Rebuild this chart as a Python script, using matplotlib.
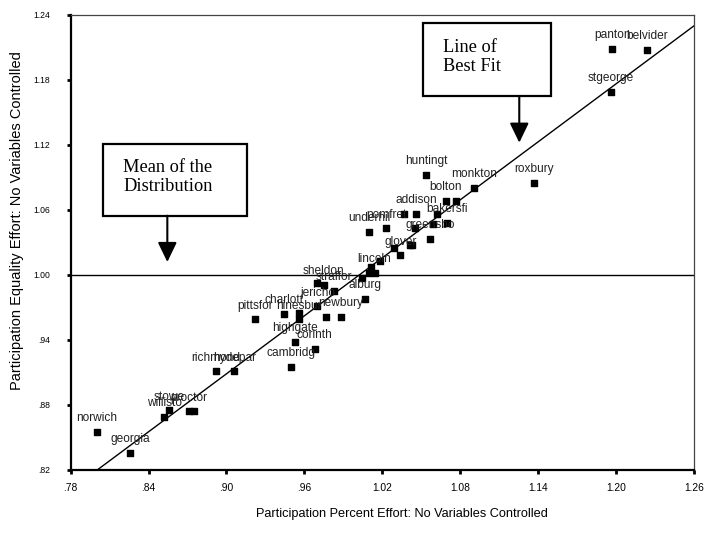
import numpy as np
import matplotlib
matplotlib.use('Agg')
import matplotlib.pyplot as plt
from matplotlib.patches import Rectangle

plt.rcParams['font.family'] = ['Liberation Sans', 'DejaVu Sans']

# towns (8 char names as in the source output, '' = label hidden under others)
towns = ['norwich', 'georgia', 'willisto', 'stowe', 'proctor', '',
         'richmond', 'hydepar', 'cambridg', 'highgate', 'corinth',
         'pittsfor', 'charlott', 'hinesbur', '', 'newbury', '',
         'jericho', 'straffor', 'sheldon', '', 'alburg', '',
         '', 'lincoln', '', '', 'glover', '', '', '',
         'huntingt', 'monkton', 'bolton', '', 'addison', '', '',
         'bakersfi', '', 'underhil', 'pomfret', '', 'greensbo',
         'roxbury', 'stgeorge', 'panton', 'belvider']
percent_effort = [0.800, 0.826, 0.852, 0.856, 0.871, 0.875,
                  0.892, 0.906, 0.950, 0.953, 0.968,
                  0.922, 0.944, 0.956, 0.956, 0.988, 0.977,
                  0.970, 0.983, 0.975, 0.970, 1.007, 1.004,
                  1.011, 1.014, 1.010, 1.018, 1.034, 1.029, 1.041, 1.043,
                  1.054, 1.091, 1.069, 1.077, 1.046, 1.037, 1.062,
                  1.070, 1.059, 1.010, 1.023, 1.045, 1.057,
                  1.137, 1.196, 1.197, 1.224]
equality_effort = [0.855, 0.836, 0.869, 0.875, 0.874, 0.874,
                   0.911, 0.911, 0.915, 0.938, 0.932,
                   0.959, 0.964, 0.959, 0.965, 0.961, 0.961,
                   0.971, 0.985, 0.991, 0.993, 0.978, 0.997,
                   1.007, 1.002, 1.002, 1.013, 1.018, 1.025, 1.028, 1.028,
                   1.092, 1.080, 1.068, 1.068, 1.056, 1.056, 1.056,
                   1.048, 1.047, 1.040, 1.043, 1.043, 1.033,
                   1.085, 1.169, 1.209, 1.208]

fit_slope = 0.892
fit_intercept = 0.106
mean_equality = 1.00

xticks = [0.78, 0.84, 0.90, 0.96, 1.02, 1.08, 1.14, 1.20, 1.26]
yticks = [0.82, 0.88, 0.94, 1.00, 1.06, 1.12, 1.18, 1.24]
xticklabels = ['.78', '.84', '.90', '.96', '1.02', '1.08', '1.14', '1.20', '1.26']
yticklabels = ['.82', '.88', '.94', '1.00', '1.06', '1.12', '1.18', '1.24']

fig = plt.figure(figsize=(7.09, 5.37), dpi=100)
ax = fig.add_axes([0.0997, 0.1248, 0.879, 0.8473])

ax.scatter(percent_effort, equality_effort, marker='s', s=18, color='black', zorder=3)
for name, xv, yv in zip(towns, percent_effort, equality_effort):
    if name:
        ax.annotate(name, (xv, yv), xytext=(0, 10), textcoords='offset points',
                    ha='center', va='center', fontsize=8.6, color='#222222', zorder=4)

xs = np.array([0.78, 1.26])
ax.plot(xs, fit_intercept + fit_slope * xs, color='black', lw=1.0, zorder=2)
ax.axhline(mean_equality, color='black', lw=1.0, zorder=2)

ax.set_xlim(0.78, 1.26)
ax.set_ylim(0.82, 1.24)
ax.set_xticks(xticks)
ax.set_xticklabels(xticklabels, fontsize=7.4)
ax.set_yticks(yticks)
ax.set_yticklabels(yticklabels, fontsize=6.2)
ax.tick_params(axis='x', direction='out', length=3, width=2, pad=6.5)
ax.tick_params(axis='y', direction='out', length=3, width=2, pad=12)
for side in ['left', 'bottom']:
    ax.spines[side].set_linewidth(1.6)
for side in ['top', 'right']:
    ax.spines[side].set_linewidth(0.9)
    ax.spines[side].set_color('#444444')

fig.text(0.5666, 0.0428, 'Participation Percent Effort: No Variables Controlled',
         ha='center', va='center', fontsize=9.2)
fig.text(0.0236, 0.5885, 'Participation Equality Effort: No Variables Controlled',
         ha='center', va='center', rotation=90, fontsize=10.5)

# callout boxes with arrows
fig.add_artist(Rectangle((0.1449, 0.5983), 0.2031, 0.1335, transform=fig.transFigure,
                         fill=False, lw=1.6, color='black'))
fig.text(0.174, 0.6704, 'Mean of the\nDistribution', family='Liberation Serif',
         fontsize=13.2, ha='left', va='center', linespacing=1.2)
ax.annotate('', xy=(0.236, 0.5121), xytext=(0.236, 0.5983), xycoords='figure fraction',
            arrowprops=dict(arrowstyle='-|>,head_length=1.2,head_width=0.58',
                            mutation_scale=10, lw=1.5, color='black',
                            shrinkA=0, shrinkB=0))

fig.add_artist(Rectangle((0.597, 0.8212), 0.1802, 0.1354, transform=fig.transFigure,
                         fill=False, lw=1.6, color='black'))
fig.text(0.6244, 0.8935, 'Line of\nBest Fit', family='Liberation Serif',
         fontsize=13.2, ha='left', va='center', linespacing=1.2)
ax.annotate('', xy=(0.7324, 0.7343), xytext=(0.7324, 0.8212), xycoords='figure fraction',
            arrowprops=dict(arrowstyle='-|>,head_length=1.2,head_width=0.58',
                            mutation_scale=10, lw=1.5, color='black',
                            shrinkA=0, shrinkB=0))

plt.savefig('out.png', dpi=100)
